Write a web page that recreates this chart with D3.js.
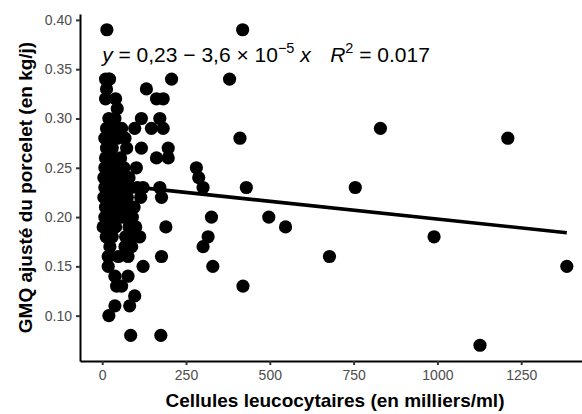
<!DOCTYPE html>
<html><head><meta charset="utf-8">
<script src="https://cdn.jsdelivr.net/npm/d3@7"></script>
<style>
body{margin:0;background:#fff;}
text{font-family:"Liberation Sans",Arial,Helvetica,sans-serif;}
</style></head>
<body><svg id="c" width="582" height="414"></svg>
<script>
// Cellules leucocytaires (en milliers/ml)
const cellules = [
 14,419, 20,207,380, 132, 162,182, 117,172, 147,182, 830, 411,1210, 117,197, 162,197,
 281, 288, 301, 122,172,430,755, 177, 326,497, 547,190, 316,112,990, 301, 177,678,
 122,330,1386, 420, 97, 82,38, 20, 85,175, 1127,
 23,68,88, 18,48,77, 18, 38,77, 43,58,
 10,22, 13, 10,40, 45, 20,38, 13,30,58,97, 8,25,45,68, 13,30,73, 10,30,55,
 8,25,45,65,102, 5,20,40,60,80, 8,25,45,65,85,105, 5,20,38,60,75,115,
 10,28,50,70,95, 8,25,45,70, 3,20,40,80,100, 12,30,70,90,
 35,60,30,50,90,15
];
// GMQ ajusté du porcelet (en kg/j)
const gmq = [
 0.39,0.39, 0.34,0.34,0.34, 0.33, 0.32,0.32, 0.30,0.30, 0.29,0.29, 0.29, 0.28,0.28, 0.27,0.27, 0.26,0.26,
 0.25, 0.24, 0.23, 0.23,0.23,0.23,0.23, 0.22, 0.20,0.20, 0.19,0.19, 0.18,0.18,0.18, 0.17, 0.16,0.16,
 0.15,0.15,0.15, 0.13, 0.12, 0.11,0.11, 0.10, 0.08,0.08, 0.07,
 0.17,0.17,0.17, 0.16,0.16,0.16, 0.15, 0.14,0.14, 0.13,0.13,
 0.34,0.34, 0.33, 0.32,0.32, 0.31, 0.30,0.30, 0.29,0.29,0.29,0.29, 0.28,0.28,0.28,0.28, 0.27,0.27,0.27, 0.26,0.26,0.26,
 0.25,0.25,0.25,0.25,0.25, 0.24,0.24,0.24,0.24,0.24, 0.23,0.23,0.23,0.23,0.23,0.23, 0.22,0.22,0.22,0.22,0.22,0.22,
 0.21,0.21,0.21,0.21,0.21, 0.20,0.20,0.20,0.20, 0.19,0.19,0.19,0.19,0.19, 0.18,0.18,0.18,0.18,
 0.21,0.20,0.24,0.22,0.20,0.26
];
const xTicks = [0,250,500,750,1000,1250];
const yTicks = [0.10,0.15,0.20,0.25,0.30,0.35,0.40];
const intercept = 0.234, slope = -3.6e-5;
const eqParts = ["0,23","3,6","10","−5"];
const r2Label = "0.017";
const xTitle = "Cellules leucocytaires (en milliers/ml)";
const yTitle = "GMQ ajusté du porcelet (en kg/j)";

const data = cellules.map((c,i)=>({x:c,y:gmq[i]}));
const svg = d3.select("#c");
const expand = (e)=>{const d=(e[1]-e[0])*0.05;return [e[0]-d,e[1]+d];};
const x = d3.scaleLinear().domain(expand(d3.extent(cellules))).range([80,590]);
const y = d3.scaleLinear().domain(expand(d3.extent(gmq))).range([361,14]);

// points
svg.append("g").selectAll("circle").data(data).join("circle")
  .attr("cx",d=>x(d.x)).attr("cy",d=>y(d.y)).attr("r",6.6).attr("fill","#000");

// regression line
const xr = d3.extent(cellules);
svg.append("path").attr("d",d3.line().x(d=>x(d)).y(d=>y(intercept+slope*d))(xr))
  .attr("stroke","#000").attr("stroke-width",3.6).attr("fill","none");

// axes
const xa = svg.append("g").attr("transform",`translate(0,${y.range()[0]})`)
  .call(d3.axisBottom(x).tickValues(xTicks).tickFormat(d3.format("d")).tickSize(4).tickSizeOuter(0).tickPadding(5));
const ya = svg.append("g").attr("transform",`translate(${x.range()[0]},0)`)
  .call(d3.axisLeft(y).tickValues(yTicks).tickFormat(d3.format(".2f")).tickSize(4).tickSizeOuter(0).tickPadding(4));
[xa,ya].forEach(a=>{
  a.select(".domain").attr("stroke","#000").attr("stroke-width",2);
  a.selectAll(".tick line").attr("stroke","#333").attr("stroke-width",2);
  a.selectAll(".tick text").attr("fill","#4d4d4d").attr("font-size",14)
   .style("font-family","'Liberation Sans',Arial,sans-serif");
});

// titles
svg.append("text").attr("x",(x.range()[0]+x.range()[1])/2).attr("y",407)
  .attr("text-anchor","middle").attr("font-weight","bold").attr("font-size",19).text(xTitle);
svg.append("text").attr("transform",`translate(32,${(y.range()[0]+y.range()[1])/2}) rotate(-90)`)
  .attr("text-anchor","middle").attr("font-weight","bold").attr("font-size",19).text(yTitle);

// equation
const eq = svg.append("text").attr("x",x(0)).attr("y",y(0.357)).attr("font-size",21).style("white-space","pre");
eq.append("tspan").attr("font-style","italic").text("y");
eq.append("tspan").text(` = ${eqParts[0]} − ${eqParts[1]} × ${eqParts[2]}`);
eq.append("tspan").attr("dy",-9).attr("font-size",14.5).text(eqParts[3]);
eq.append("tspan").attr("dy",9).text(" ");
eq.append("tspan").attr("font-style","italic").text("x");
const r2 = svg.append("text").attr("x",x(680)).attr("y",y(0.357)).attr("font-size",21).style("white-space","pre");
r2.append("tspan").attr("font-style","italic").text("R");
r2.append("tspan").attr("dy",-9).attr("font-size",14.5).text("2");
r2.append("tspan").attr("dy",9).text(" = " + r2Label);
</script></body></html>
